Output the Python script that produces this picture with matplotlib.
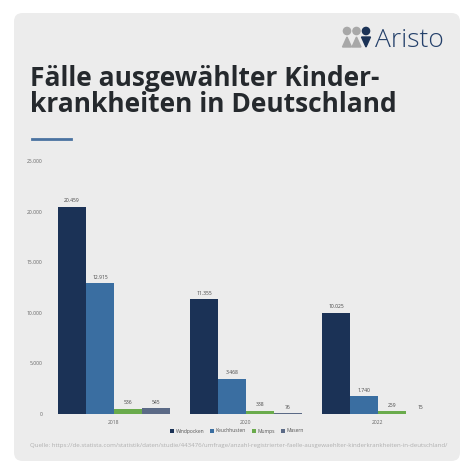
import matplotlib.pyplot as plt
import numpy as np
from matplotlib.patches import FancyBboxPatch, Polygon, Circle

plt.rcParams['font.family'] = ['Open Sans', 'DejaVu Sans']

years = ['2018', '2020', '2022']
diseases = ['Windpocken', 'Keuchhusten', 'Mumps', 'Masern']
windpocken = [20459, 11355, 10025]
keuchhusten = [12915, 3468, 1740]
mumps = [536, 338, 259]
masern = [545, 76, 15]
colors = ['#1b3256', '#3a6ea1', '#6aab4c', '#5b6a86']

series = [windpocken, keuchhusten, mumps, masern]

W, H = 474, 474
fig = plt.figure(figsize=(4.74, 4.74), dpi=100)
fig.patch.set_facecolor('white')

# grey card
card = FancyBboxPatch((14 / W, 13 / H), 446 / W, 448 / H,
                      boxstyle='round,pad=0,rounding_size=0.018',
                      transform=fig.transFigure, facecolor='#ececec',
                      edgecolor='none', zorder=-10)
fig.patches.append(card)

# title
fig.text(30 / W, 1 - 86 / H, 'Fälle ausgewählter Kinder-', fontsize=19,
         fontweight='bold', color='#25292d', va='baseline')
fig.text(30 / W, 1 - 112 / H, 'krankheiten in Deutschland', fontsize=19,
         fontweight='bold', color='#25292d', va='baseline')
fig.add_artist(plt.Line2D([32 / W, 71 / W], [1 - 139 / H, 1 - 139 / H],
                          transform=fig.transFigure, color='#4a72a0', lw=2))

# logo
fig.text(375 / W, 1 - 47 / H, 'Aristo', fontsize=19, fontweight='light',
         color='#24406a', va='baseline')
for i, c in enumerate(['#a8a8a8', '#a8a8a8', '#1b3256']):
    cx = 347 + i * 9.5
    fig.patches.append(Circle((cx / W, 1 - 31 / H), 3.6 / W,
                              transform=fig.transFigure, color=c))
    if i < 2:
        pts = [((cx - 4.5) / W, 1 - 47 / H), ((cx + 4.5) / W, 1 - 47 / H),
               (cx / W, 1 - 37 / H)]
    else:
        pts = [((cx - 4.5) / W, 1 - 37 / H), ((cx + 4.5) / W, 1 - 37 / H),
               (cx / W, 1 - 47 / H)]
    fig.patches.append(Polygon(pts, closed=True, transform=fig.transFigure,
                               color=c))

# chart
left, right = 48, 446
ax = fig.add_axes([left / W, (H - 414) / H, (right - left) / W, 253 / H])
ax.set_zorder(5)
ax.set_facecolor('none')
unit = 132.0
ax.set_xlim(-(114 - left) / unit, (right - 114) / unit)
ax.set_ylim(0, 25000)

x = np.arange(len(years))
w = 0.212
for i, (vals, c, name) in enumerate(zip(series, colors, diseases)):
    pos = x + (i - 1.5) * w
    bars = ax.bar(pos, vals, width=w, color=c, label=name, zorder=2)
    for b, v in zip(bars, vals):
        ax.annotate(f'{v:,}'.replace(',', '.'),
                    (b.get_x() + b.get_width() / 2, v),
                    xytext=(0, 2.5), textcoords='offset points',
                    ha='center', va='bottom', fontsize=3.6, color='#444444')

ax.set_yticks([0, 5000, 10000, 15000, 20000, 25000])
ax.set_yticklabels(['0', '5.000', '10.000', '15.000', '20.000', '25.000'])
ax.set_xticks(x)
ax.set_xticklabels(years)
ax.tick_params(length=0, labelsize=3.6, labelcolor='#666666', pad=4)
for s in ax.spines.values():
    s.set_visible(False)

fig.legend(loc='center', bbox_to_anchor=(237 / W, 1 - 431 / H), ncol=4,
           frameon=False, fontsize=3.6, handlelength=0.7, handleheight=0.7,
           handletextpad=0.4, columnspacing=1.2, labelcolor='#555555')

fig.text(30 / W, 1 - 446 / H,
         'Quelle: https://de.statista.com/statistik/daten/studie/443476/umfrage/'
         'anzahl-registrierter-faelle-ausgewaehlter-kinderkrankheiten-in-deutschland/',
         fontsize=4.4, color='#b0b0b0', va='center')

fig.savefig('out.png', dpi=100)
